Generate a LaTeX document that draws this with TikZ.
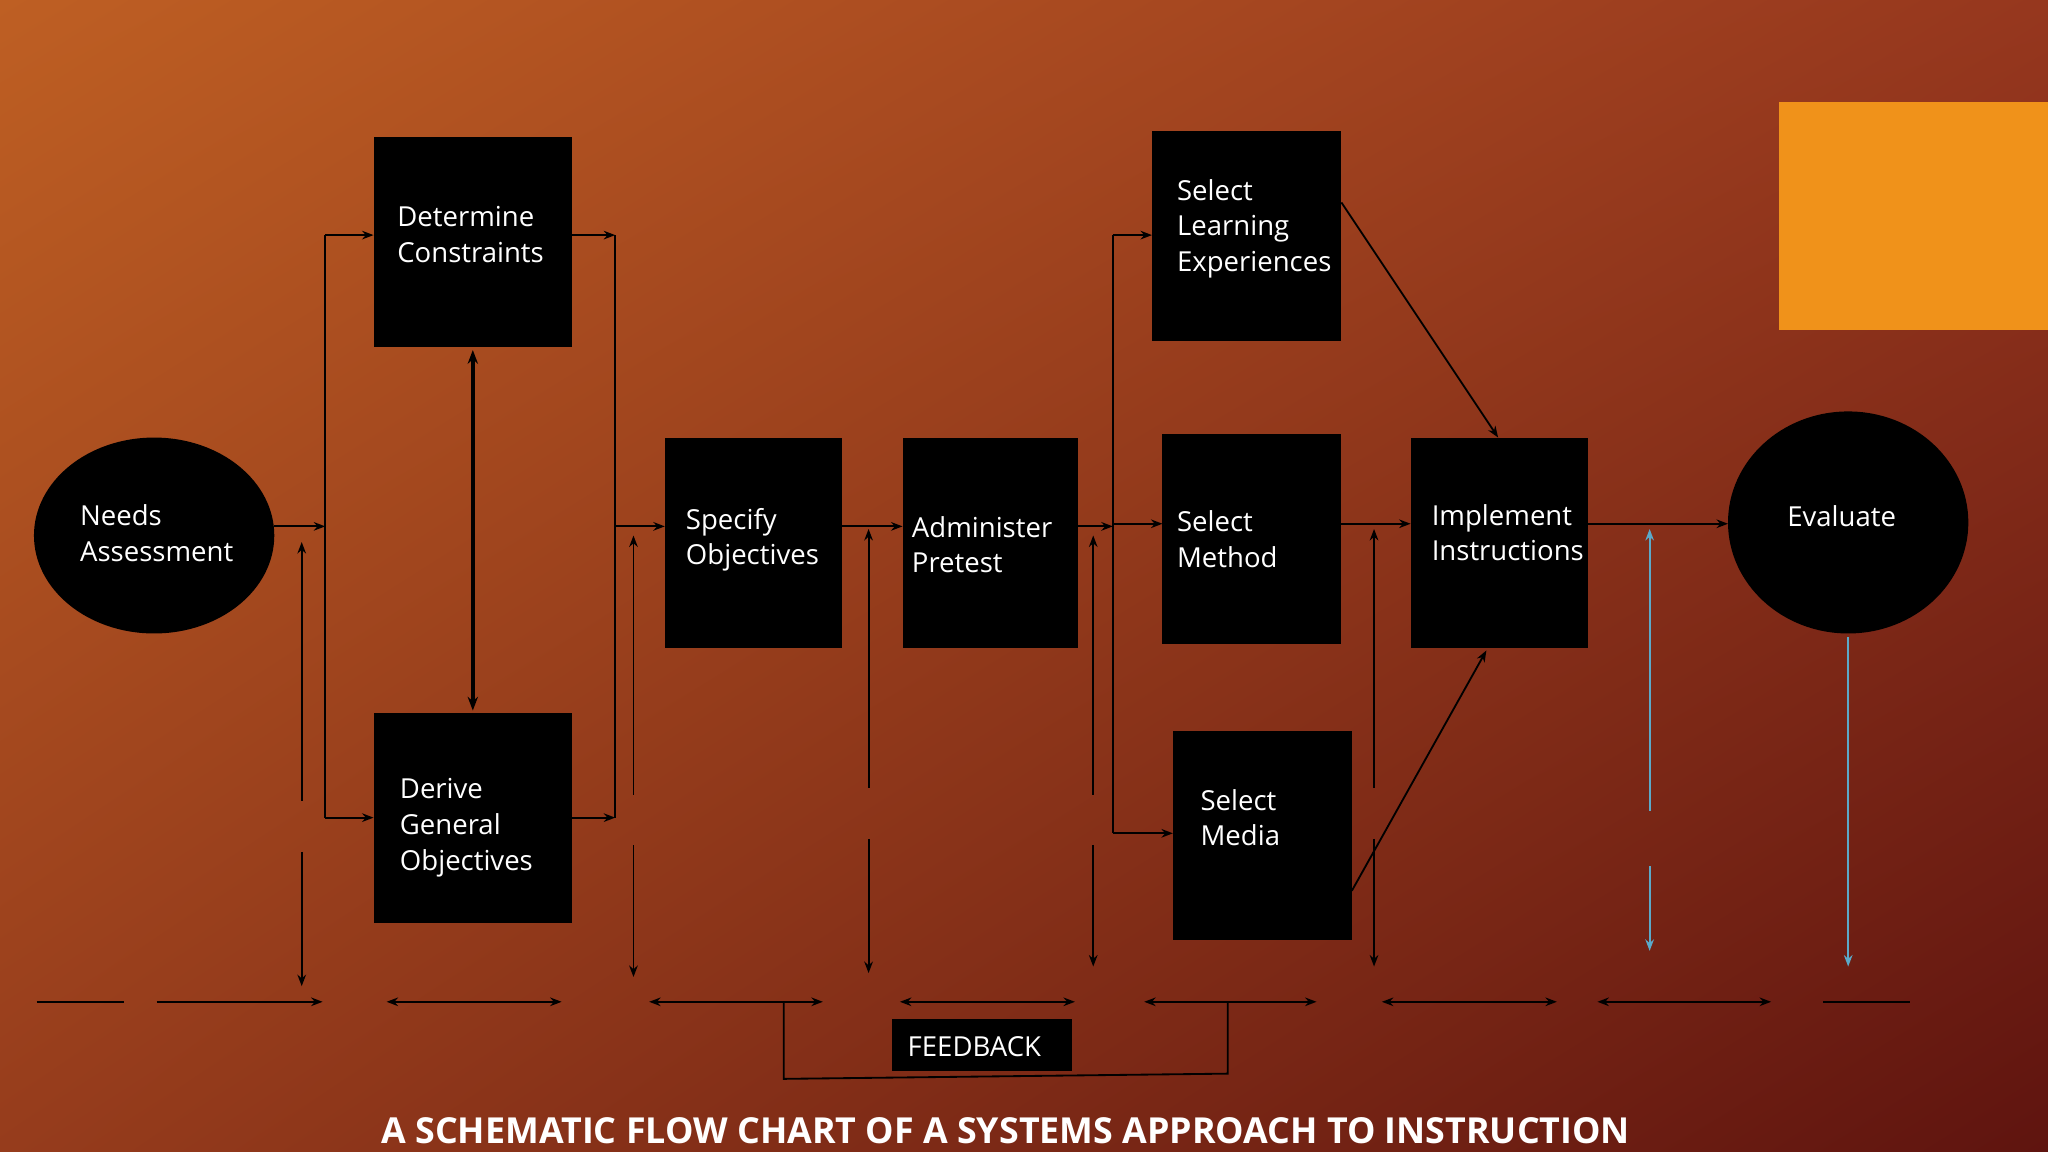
\documentclass[tikz,border=0pt]{standalone}
\usepackage{fontspec}
\setmainfont{Open Sans}
\usetikzlibrary{arrows.meta,shapes.geometric,shadings}
\definecolor{blu}{HTML}{5BA9C9}
\definecolor{org}{HTML}{F0921A}
\definecolor{ul}{RGB}{190,95,35}
\definecolor{ur}{RGB}{150,55,30}
\definecolor{ll}{RGB}{150,60,28}
\definecolor{lr}{RGB}{95,20,15}
\begin{document}
\begin{tikzpicture}[x=0.02cm,y=-0.02cm,
  ln/.style={black,line width=0.8pt},
  ar/.style={ln,-{Stealth[length=5pt]}},
  dd/.style={ln,dash pattern=on 110 off 22},
  txt/.style={text=white,align=left,font=\fontsize{12}{15.5}\selectfont}]
\shade[upper left=ul,upper right=ur,lower left=ll,lower right=lr] (0,0) rectangle (1568,882);
\useasboundingbox (0,0) rectangle (1568,882);
\fill[org] (1362,78) rectangle (1568,253);
% shapes
\fill (118,410) ellipse [x radius=92,y radius=75];
\node[txt] (na) at (120,408) {Needs\\Assessment};
\fill (1415,400) ellipse [x radius=92,y radius=85];
\node[txt] (ev) at (1410,395) {Evaluate};
\fill (286,105) rectangle (438,266); \node[txt,anchor=north west] (dc) at (298,152) {Determine\\Constraints};
\fill (286,546) rectangle (438,707); \node[txt,anchor=north west] (dg) at (300,590) {Derive\\General\\Objectives};
\fill (509,335) rectangle (645,496); \node[txt,anchor=north west] (so) at (519,383) {Specify\\Objectives};
\fill (691,335) rectangle (825,496); \node[txt,anchor=north west] (ap) at (692,389) {Administer\\Pretest};
\fill (882,100) rectangle (1027,261); \node[txt,anchor=north west] (sl) at (895,131) {Select\\Learning\\Experiences};
\fill (890,332) rectangle (1027,493); \node[txt,anchor=north west] (sm) at (895,385) {Select\\Method};
\fill (898,560) rectangle (1035,720); \node[txt,anchor=north west] (sd) at (913,598) {Select\\Media};
\fill (1080,335) rectangle (1216,496); \node[txt,anchor=north west] (ii) at (1090,380) {Implement\\Instructions};
\fill (683,780) rectangle (821,820); \node[txt] (fb) at (746,801) {FEEDBACK};
\node[text=white,font=\fontsize{15.6}{18}\selectfont\bfseries] (title) at (770,866) {A SCHEMATIC FLOW CHART OF A SYSTEMS APPROACH TO INSTRUCTION};
% connectors
\coordinate (a1) at (249,403);
\draw[ar] (210,403) -- (a1);
\draw[ln] (249,180) -- (249,626);
\draw[ar] (249,180) -- (286,180);
\draw[ar] (249,626) -- (286,626);
\draw[black,line width=2pt,{Stealth[length=6pt]}-{Stealth[length=6pt]}] (362,268) -- (362,544);
\draw[ar] (438,180) -- (471,180);
\draw[ar] (438,626) -- (471,626);
\draw[ln] (471,180) -- (471,626);
\draw[ar] (471,403) -- (509,403);
\draw[ar] (645,403) -- (691,403);
\draw[ar] (825,403) -- (852,403);
\draw[ln] (852,180) -- (852,638);
\draw[ar] (852,180) -- (882,180);
\draw[ar] (852,401) -- (890,401);
\draw[ar] (852,638) -- (898,638);
\draw[ar] (1027,155) -- (1147,335);
\draw[ar] (1027,401) -- (1080,401);
\draw[ar] (1035,682) -- (1138,498);
\draw[ar] (1216,401) -- (1323,401);
% feedback verticals
\foreach \x/\t/\b in {231/415/755,485/410/748,665/405/745,837/410/740,1052/405/740}{
  \draw[dd,{Stealth[length=5pt]}-{Stealth[length=5pt]}] (\x,\t) -- (\x,\b);}
\draw[blu,line width=1pt,dash pattern=on 120 off 24,{Stealth[length=5pt]}-{Stealth[length=5pt]}] (1263,405) -- (1263,728);
\draw[blu,line width=1pt,-{Stealth[length=5pt]}] (1415,488) -- (1415,740);
% bottom line
\draw[ln] (28,767) -- (95,767);
\draw[ar] (120,767) -- (247,767);
\foreach \a/\b in {296/430,497/630,689/823,876/1008,1058/1192,1223/1356}{
  \draw[ln,{Stealth[length=5pt]}-{Stealth[length=5pt]}] (\a,767) -- (\b,767);}
\draw[ln] (1396,767) -- (1462,767);
\draw[ln] (600,767) -- (600,826) -- (940,822) -- (940,767);
\end{tikzpicture}
\end{document}
